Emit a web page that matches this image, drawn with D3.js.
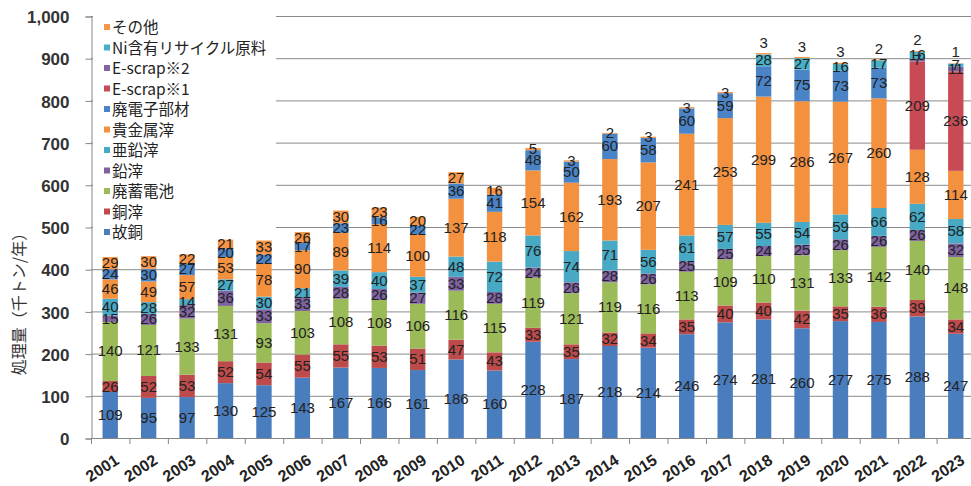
<!DOCTYPE html>
<html>
<head>
<meta charset="utf-8">
<script src="https://cdn.jsdelivr.net/npm/d3@7"></script>
<style>
body { margin: 0; background: #fff; }
.val { font-family: "Liberation Sans", Arial, sans-serif; font-size: 15px; fill: #222; }
.ytick { font-family: "Liberation Sans", Arial, sans-serif; font-size: 17px; font-weight: bold; fill: #333; }
.xtick { font-family: "Liberation Sans", Arial, sans-serif; font-size: 16px; font-weight: bold; fill: #222; }
.legend { font-family: "Noto Sans CJK JP", sans-serif; font-size: 15.5px; fill: #222; }
.ytitle { font-family: "Noto Sans CJK JP", sans-serif; font-size: 16px; fill: #333; }
</style>
</head>
<body>
<svg id="chart" width="971" height="486"></svg>
<script>
const years = ["2001","2002","2003","2004","2005","2006","2007","2008","2009","2010","2011","2012",
               "2013","2014","2015","2016","2017","2018","2019","2020","2021","2022","2023"]
const yTicks = [0,100,200,300,400,500,600,700,800,900,1000]

// bottom to top
const seriesNames = ["故銅","銅滓","廃蓄電池","鉛滓","亜鉛滓","貴金属滓","廃電子部材","E-scrap※1","E-scrap※2","Ni含有リサイクル原料","その他"]
const seriesColors = ["#4a7dbd","#be4b4b","#9bbb59","#7f63a1","#47a9c4","#f4913f","#4b84c6","#c84a55","#8064a2","#45b0c8","#f79646"]

const kodou      = [109,95,97,130,125,143,167,166,161,186,160,228,187,218,214,246,274,281,260,277,275,288,247]
const douzai     = [26,52,53,52,54,55,55,53,51,47,43,33,35,32,34,35,40,40,42,35,36,39,34]
const chikudenchi= [140,121,133,131,93,103,108,108,106,116,115,119,121,119,116,113,109,110,131,133,142,140,148]
const enzai      = [15,26,32,36,33,33,28,26,27,33,28,24,26,28,26,25,25,24,25,26,26,26,32]
const aenzai     = [40,28,14,27,30,21,39,40,37,48,72,76,74,71,56,61,57,55,54,59,66,62,58]
const kikinzoku  = [46,49,57,53,78,90,89,114,100,137,118,154,162,193,207,241,253,299,286,267,260,128,114]
const haidenshi  = [24,30,27,20,22,17,23,16,22,36,41,48,50,60,58,60,59,72,75,73,73,0,0]
const escrap1    = [0,0,0,0,0,0,0,0,0,0,0,0,0,0,0,0,0,0,0,0,0,209,236]
const escrap2    = [0,0,0,0,0,0,0,0,0,0,0,0,0,0,0,0,0,0,0,0,0,7,11]
const niGenryo   = [0,0,0,0,0,0,0,0,0,0,0,0,0,0,0,0,0,28,27,16,17,16,7]
const sonota     = [29,30,22,21,33,26,30,23,20,27,16,5,3,2,3,3,3,3,3,3,2,2,1]

const seriesValues = [kodou,douzai,chikudenchi,enzai,aenzai,kikinzoku,haidenshi,escrap1,escrap2,niGenryo,sonota]

let rows = years.map(function(y,i) {
    let r = {year: y}
    seriesNames.forEach(function(n,k) { r[n] = seriesValues[k][i] })
    return r
})
let stacked = d3.stack().keys(seriesNames)(rows)

let svg = d3.select("#chart")
let xScale = d3.scaleBand().domain(years).range([91,975]).paddingInner(0.6).paddingOuter(0.3)
let yScale = d3.scaleLinear().domain([0,1000]).range([438,16])

// gridlines
svg.append("g").selectAll("line")
    .data(yTicks.filter(d => d > 0))
    .enter().append("line")
    .attr("x1",91).attr("x2",971)
    .attr("y1",d => yScale(d)+0.5).attr("y2",d => yScale(d)+0.5)
    .attr("stroke","#8a8a8a").attr("stroke-width",1)

// bars
let layers = svg.append("g").selectAll("g")
    .data(stacked)
    .enter().append("g")
    .attr("fill",(d,i) => seriesColors[i])
layers.selectAll("rect")
    .data(d => d)
    .enter().append("rect")
    .attr("x",d => xScale(d.data.year))
    .attr("width",xScale.bandwidth())
    .attr("y",d => yScale(d[1]))
    .attr("height",d => yScale(d[0]) - yScale(d[1]))

// value labels; a tiny top label sitting on another thin segment is lifted above the bar
let labels = svg.append("g")
let last = stacked.length - 1
stacked.forEach(function(layer, k) {
    labels.selectAll(null)
        .data(layer.filter(d => d[1] - d[0] > 0))
        .enter().append("text")
        .attr("class","val")
        .attr("x",d => xScale(d.data.year) + xScale.bandwidth()/2)
        .attr("y",function(d) {
            let yy = yScale((d[0]+d[1])/2) + 5
            if (k == last && d[1] - d[0] < 5) {
                let i = years.indexOf(d.data.year)
                let prev = seriesValues.slice(0,last).map(v => v[i]).filter(v => v > 0).pop()
                if (prev < 30) yy -= 11
            }
            return yy
        })
        .attr("text-anchor","middle")
        .text(d => d[1] - d[0])
})

// axes
let y_axis = d3.axisLeft(yScale).tickValues(yTicks).tickSize(6).tickFormat(d3.format(","))
let gy = svg.append("g").attr("transform","translate(91.5,0.5)").call(y_axis)
gy.select(".domain").attr("stroke","#868686")
gy.selectAll(".tick line").attr("stroke","#868686")
gy.selectAll(".tick text").attr("class","ytick").attr("x",-22).attr("dy","0.36em")

let step = xScale.step()
let xStart = xScale.range()[0]
let gx = svg.append("g")
gx.append("line").attr("x1",91).attr("x2",971).attr("y1",438.5).attr("y2",438.5).attr("stroke","#868686")
gx.selectAll(".xt")
    .data(d3.range(years.length + 1))
    .enter().append("line")
    .attr("x1",i => xStart + i*step + 0.5).attr("x2",i => xStart + i*step + 0.5)
    .attr("y1",438).attr("y2",444).attr("stroke","#868686")
gx.selectAll("text")
    .data(years)
    .enter().append("text")
    .attr("class","xtick")
    .attr("text-anchor","end")
    .attr("transform",d => `translate(${xScale(d) + xScale.bandwidth()/2 + 10},${463}) rotate(-33)`)
    .text(d => d)

// y title
svg.append("text")
    .attr("class","ytitle")
    .attr("transform","translate(25,300) rotate(-90)")
    .attr("text-anchor","middle")
    .text("処理量（千トン/年）")

// legend
let legend = svg.append("g")
legend.append("rect").attr("x",93).attr("y",12).attr("width",183).attr("height",226).attr("fill","#fff")
let legendItems = seriesNames.map((n,i) => ({name: n, color: seriesColors[i]})).reverse()
let li = legend.selectAll(".li")
    .data(legendItems)
    .enter().append("g")
    .attr("transform",(d,i) => `translate(104,${28 + i*20.5})`)
li.append("rect").attr("x",0).attr("y",-4).attr("width",6).attr("height",6).attr("fill",d => d.color)
li.append("text").attr("class","legend").attr("x",8).attr("y",5).text(d => d.name)
</script>
</body>
</html>
